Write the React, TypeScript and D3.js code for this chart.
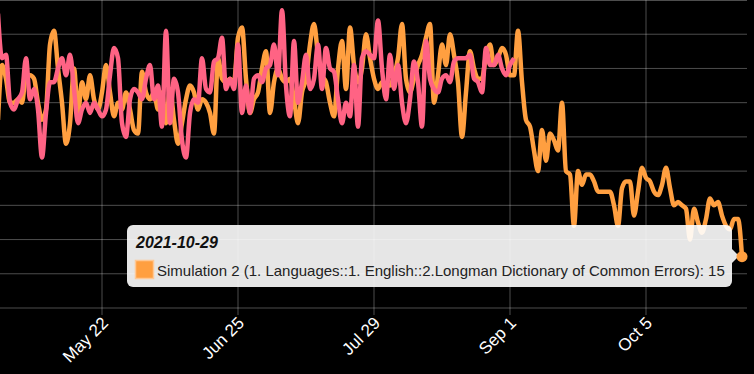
import React from "react";
import * as d3 from "d3";

const START_DATE = "2021-04-26";
const ORANGE_NAME = "Simulation 2 (1. Languages::1. English::2.Longman Dictionary of Common Errors)";
const orangeValues = [
  55, 71, 67, 60, 60, 61, 60, 68, 68, 67, 60, 55, 58, 77, 81, 70, 60, 48, 54, 70, 57, 66, 61, 68, 61, 58, 63, 71, 63, 56, 60, 58,
  63, 58, 52, 51, 69, 63, 61, 63, 58, 63, 54, 64, 55, 48, 54, 61, 65, 63, 58, 61, 60, 57, 51, 73, 67, 66, 67, 66, 79, 82, 67, 57,
  61, 63, 70, 75, 57, 66, 70, 67, 66, 67, 61, 54, 63, 67, 77, 83, 74, 68, 66, 60, 56, 70, 78, 64, 82, 71, 66, 70, 80, 73, 67,
  64, 66, 65, 65, 68, 73, 83, 67, 63, 67, 71, 74, 79, 83, 60, 68, 77, 71, 80, 74, 66, 50, 63, 75, 70, 67, 67, 74, 77, 71, 73,
  76, 74, 68, 68, 81, 66, 55, 53, 46, 40, 52, 43, 51, 49, 46, 60, 40, 39, 24, 40, 36, 39, 39, 37, 34, 34, 34, 34, 30, 24, 35,
  37, 37, 27, 34, 41, 38, 37, 34, 33, 36, 41, 35, 30, 31, 30, 29, 20, 29, 25, 22, 26, 32, 30, 31, 27, 24, 23, 26, 26, 15,
];
const pinkValues = [
  86, 73, 74, 60, 58, 61, 63, 73, 61, 64, 58, 44, 57, 66, 66, 70, 73, 68, 74, 64, 54, 58, 60, 57, 60, 58, 56, 58, 68, 76, 73, 54,
  50, 61, 64, 63, 61, 67, 71, 61, 65, 53, 81, 54, 67, 63, 49, 44, 57, 61, 60, 73, 64, 63, 72, 73, 79, 64, 67, 64, 77, 57, 65, 57,
  67, 68, 66, 70, 71, 77, 68, 87, 65, 56, 78, 60, 66, 74, 64, 67, 77, 64, 76, 70, 69, 61, 54, 60, 56, 71, 53, 73, 75, 74, 73,
  84, 70, 61, 74, 64, 71, 60, 54, 61, 72, 66, 53, 78, 67, 64, 63, 67, 68, 66, 72, 73, 73, 73, 74, 67, 66, 63, 76, 71, 71, 74,
  70, 68, 71, 73,
];
const tickLabels = ["May 22", "Jun 25", "Jul 29", "Sep 1", "Oct 5"];
const tickDates = ["2021-05-22", "2021-06-25", "2021-07-29", "2021-09-01", "2021-10-05"];
const yTicks = [0, 10, 20, 30, 40, 50, 60, 70, 80, 90];
const tooltipTitle = "2021-10-29";

const W = 754;
const H = 374;
const ORANGE = "#ff9f40";
const PINK = "#ff6384";

function dayDate(i: number) {
  const d = new Date(START_DATE + "T00:00:00Z");
  d.setUTCDate(d.getUTCDate() + i);
  return d;
}

export default function App() {
  const x = d3
    .scaleUtc()
    .domain([new Date("2021-04-26T12:00:00Z"), new Date("2021-10-30T12:00:00Z")])
    .range([0, 748]);
  const y = d3.scaleLinear().domain([0, 90]).range([308, 0]);
  const line = d3
    .line<number>()
    .x((_, i) => x(dayDate(i)))
    .y((v) => y(v))
    .curve(d3.curveMonotoneX);

  const lastI = orangeValues.length - 1;
  const px = x(dayDate(lastI));
  const py = y(orangeValues[lastI]);

  return (
    <svg
      width={W}
      height={H}
      style={{ position: "fixed", left: 0, top: 0, background: "#000" }}
      fontFamily="'Liberation Sans', Arial, sans-serif"
    >
      <rect x={0} y={0} width={W} height={H} fill="#000" />
      <g stroke="rgba(255,255,255,0.3)" strokeWidth={1}>
        {yTicks.map((t) => (
          <line key={t} x1={0} x2={747} y1={Math.max(0.5, y(t))} y2={Math.max(0.5, y(t))} />
        ))}
        {tickDates.map((t) => (
          <line key={t} x1={x(new Date(t + "T00:00:00Z"))} x2={x(new Date(t + "T00:00:00Z"))} y1={0} y2={315} />
        ))}
      </g>
      <path d={line(orangeValues) || ""} fill="none" stroke={ORANGE} strokeWidth={4.5} strokeLinejoin="round" />
      <path d={line(pinkValues) || ""} fill="none" stroke={PINK} strokeWidth={4.5} strokeLinejoin="round" />
      <g fill="#fff" fontSize={17}>
        {tickDates.map((t, i) => {
          const tx = x(new Date(t + "T00:00:00Z"));
          return (
            <text
              key={t}
              transform={`translate(${tx + 4},${321}) rotate(-45)`}
              textAnchor="end"
              dominantBaseline="middle"
            >
              {tickLabels[i]}
            </text>
          );
        })}
      </g>
      <g>
        <rect x={127} y={225} width={605} height={62} rx={6} fill="#fff" fillOpacity={0.9} />
        <path d={`M732,249 L739,256 L732,263 Z`} fill="#fff" fillOpacity={0.9} />
        <text x={136} y={248} fontSize={16} fontWeight="bold" fontStyle="italic" fill="#111">
          {tooltipTitle}
        </text>
        <rect x={135.5} y={260.5} width={18} height={18} fill={ORANGE} stroke="#ffc894" strokeWidth={1.5} />
        <text x={157} y={276} fontSize={15} fill="#222">
          {`${ORANGE_NAME}: ${orangeValues[lastI]}`}
        </text>
      </g>
      <circle cx={px} cy={py} r={5.5} fill={ORANGE} />
    </svg>
  );
}
